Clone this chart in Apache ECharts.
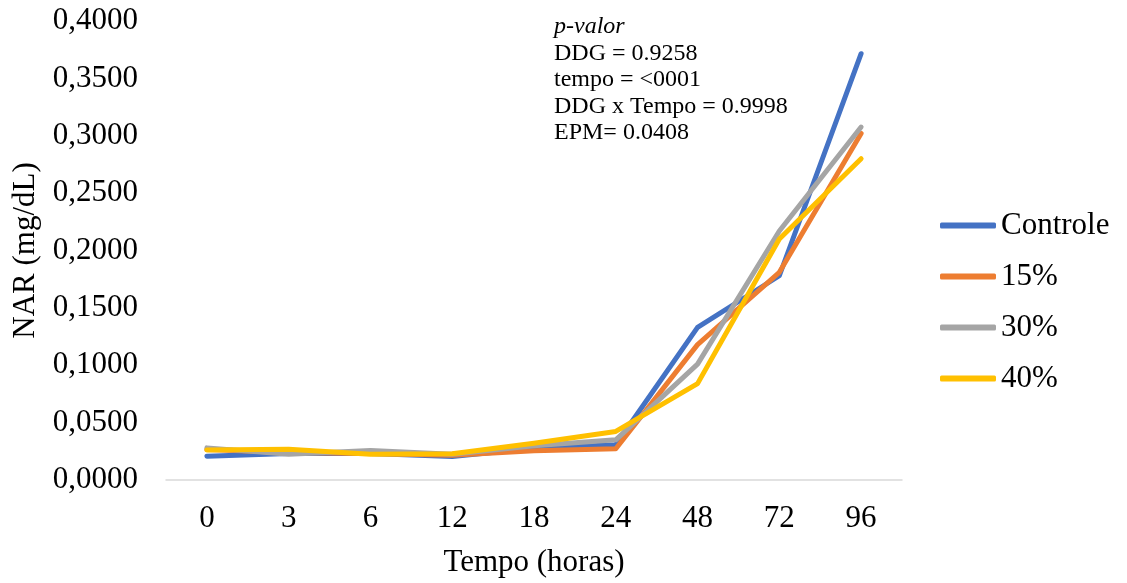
<!DOCTYPE html>
<html>
<head>
<meta charset="utf-8">
<script src="https://cdn.jsdelivr.net/npm/echarts@6/dist/echarts.min.js"></script>
<style>
html,body{margin:0;padding:0;background:#fff;}
#c{width:1127px;height:583px;}
</style>
</head>
<body>
<div id="c"></div>
<script>
const categories = ['0', '3', '6', '12', '18', '24', '48', '72', '96'];
const controle = [0.0207, 0.0230, 0.0232, 0.0205, 0.0277, 0.0307, 0.1330, 0.1780, 0.3715];
const p15 = [0.0265, 0.0240, 0.0230, 0.0215, 0.0254, 0.0272, 0.1180, 0.1810, 0.3020];
const p30 = [0.0280, 0.0225, 0.0257, 0.0225, 0.0298, 0.0350, 0.1010, 0.2170, 0.3076];
const p40 = [0.0262, 0.0268, 0.0225, 0.0228, 0.0320, 0.0423, 0.0840, 0.2100, 0.2800];
const seriesNames = ['Controle', '15%', '30%', '40%'];
const annotationTitle = 'p-valor';
const annotationLines = ['DDG = 0.9258', 'tempo = <0001', 'DDG x Tempo = 0.9998', 'EPM= 0.0408'];

const font = 'Liberation Serif';
const colors = ['#4472C4', '#ED7D31', '#A5A5A5', '#FFC000'];
const dataSets = [controle, p15, p30, p40];

const annoTop = 15, annoStep = 26.5;
const annoGraphics = [annotationTitle].concat(annotationLines).map((t, i) => ({
  type: 'text',
  left: 554,
  top: annoTop + i * annoStep,
  style: {
    text: t,
    font: (i === 0 ? 'italic ' : '') + '24px "Liberation Serif"',
    fill: '#000'
  }
}));

const chart = echarts.init(document.getElementById('c'));
chart.setOption({
  animation: false,
  color: colors,
  textStyle: {fontFamily: font},
  grid: {left: 166, right: 225, top: 21, bottom: 103, containLabel: false},
  legend: {
    orient: 'vertical',
    left: 940,
    top: 210,
    padding: 0,
    icon: 'roundRect',
    itemWidth: 56,
    itemHeight: 6,
    itemGap: 20,
    itemTextGap: 1,
    data: seriesNames,
    textStyle: {fontFamily: font, fontSize: 31, color: '#000'}
  },
  xAxis: {
    type: 'category',
    data: categories,
    boundaryGap: true,
    axisLine: {lineStyle: {color: '#d9d9d9', width: 1.5}},
    axisTick: {show: false},
    axisLabel: {fontFamily: font, fontSize: 31, color: '#000', margin: 23},
    name: 'Tempo (horas)',
    nameLocation: 'middle',
    nameGap: 67,
    nameTextStyle: {fontFamily: font, fontSize: 31, color: '#000', verticalAlign: 'top'}
  },
  yAxis: {
    type: 'value',
    min: 0,
    max: 0.4,
    interval: 0.05,
    splitLine: {show: false},
    axisLine: {show: false},
    axisTick: {show: false},
    axisLabel: {
      fontFamily: font, fontSize: 31, color: '#000', margin: 28,
      formatter: v => v.toFixed(4).replace('.', ',')
    },
    name: 'NAR (mg/dL)',
    nameLocation: 'middle',
    nameGap: 117,
    nameRotate: 90,
    nameTextStyle: {fontFamily: font, fontSize: 31, color: '#000'}
  },
  graphic: annoGraphics,
  series: seriesNames.map((n, i) => ({
    name: n,
    type: 'line',
    data: dataSets[i],
    symbol: 'none',
    lineStyle: {width: 5, color: colors[i], cap: 'round', join: 'round'},
    itemStyle: {color: colors[i]}
  }))
});
</script>
</body>
</html>
